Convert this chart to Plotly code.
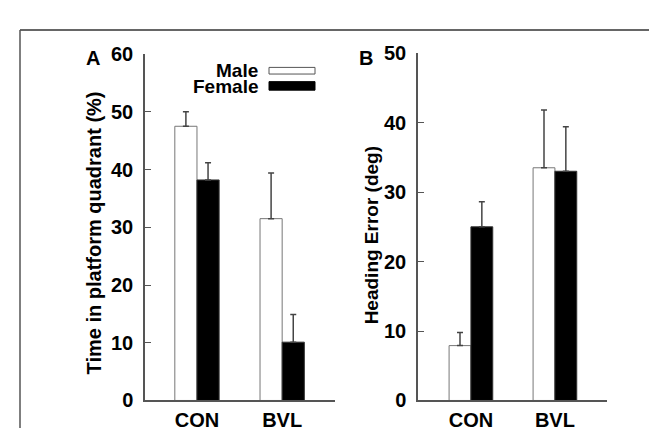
import plotly.graph_objects as go

W, H = 657, 431

categories = ["CON", "BVL"]
series_names = ["Male", "Female"]

# Panel A: Time in platform quadrant (%)
a_male = [47.5, 31.5]
a_male_err = [2.5, 7.9]
a_female = [38.2, 10.1]
a_female_err = [3.0, 4.8]

# Panel B: Heading Error (deg)
b_male = [7.9, 33.5]
b_male_err = [1.9, 8.3]
b_female = [25.0, 33.0]
b_female_err = [3.6, 6.4]

a_ticks = [0, 10, 20, 30, 40, 50, 60]
b_ticks = [0, 10, 20, 30, 40, 50]

FONT = "Liberation Sans, Arial, sans-serif"
AX = "#555555"
ERR = "#444444"

def px(x):
    return x / W

def py(y):
    return 1 - y / H

fig = go.Figure()

cat_pos = list(range(len(categories)))

def add_pair(m, me, f, fe, xa, ya):
    fig.add_trace(go.Bar(
        x=cat_pos, y=m, name="Male", xaxis=xa, yaxis=ya,
        marker=dict(color="white", line=dict(color="#777777", width=1)),
        error_y=dict(type="data", array=me, arrayminus=[0] * len(me), symmetric=False,
                     color=ERR, thickness=1.5, width=3),
        showlegend=False))
    fig.add_trace(go.Bar(
        x=cat_pos, y=f, name="Female", xaxis=xa, yaxis=ya,
        marker=dict(color="black", line=dict(color="#333333", width=1)),
        error_y=dict(type="data", array=fe, arrayminus=[0] * len(fe), symmetric=False,
                     color=ERR, thickness=1.5, width=3),
        showlegend=False))

add_pair(a_male, a_male_err, a_female, a_female_err, "x", "y")
add_pair(b_male, b_male_err, b_female, b_female_err, "x2", "y2")

tickfont = dict(family=FONT, size=20, color="black", weight="bold")

xcommon = dict(
    tickmode="array", tickvals=cat_pos, ticktext=categories,
    showline=True, linecolor=AX, linewidth=1.5, ticks="", showgrid=False,
    zeroline=False, tickfont=tickfont, ticklabelstandoff=1,
)
ycommon = dict(
    showline=True, linecolor=AX, linewidth=1.5, ticks="inside", ticklen=6,
    tickcolor=AX, tickwidth=1.2, showgrid=False, zeroline=False,
    tickfont=tickfont, ticklabelstandoff=6,
)

fig.update_layout(
    width=W, height=H,
    margin=dict(l=0, r=0, t=0, b=0),
    paper_bgcolor="white", plot_bgcolor="white",
    barmode="group", bargap=0.48, bargroupgap=0,
    xaxis=dict(domain=[px(137), px(327)], range=[-0.61, 1.62], anchor="y", **xcommon),
    yaxis=dict(domain=[py(402), py(37)], range=[0, 60], tickvals=a_ticks, anchor="x", **ycommon),
    xaxis2=dict(domain=[px(410), px(599)], range=[-0.63, 1.62], anchor="y2", **xcommon),
    yaxis2=dict(domain=[py(402), py(36)], range=[0, 50], tickvals=b_ticks, anchor="x2", **ycommon),
)

ann = [
    dict(text="Time in platform quadrant (%)", x=px(86), y=py(226), textangle=-90, size=20),
    dict(text="Heading Error (deg)", x=px(363), y=py(228), textangle=-90, size=19),
    dict(text="A", x=px(85), y=py(41), size=20),
    dict(text="B", x=px(358), y=py(41), size=20),
]
for a in ann:
    size = a.pop("size")
    fig.add_annotation(xref="paper", yref="paper", xanchor="center", yanchor="middle",
                       showarrow=False,
                       font=dict(family=FONT, size=size, color="black", weight="bold"), **a)

# legend (text to the left of the swatch)
legfont = dict(family=FONT, size=19, color="black", weight="bold")
fig.add_annotation(text=series_names[0], xref="paper", yref="paper", x=px(252), y=py(54),
                   xanchor="right", yanchor="middle", showarrow=False, font=legfont)
fig.add_annotation(text=series_names[1], xref="paper", yref="paper", x=px(252), y=py(71),
                   xanchor="right", yanchor="middle", showarrow=False, font=legfont)
fig.add_shape(type="rect", xref="paper", yref="paper", x0=px(261), x1=px(307), y0=py(58), y1=py(51),
              line=dict(color="#555555", width=1), fillcolor="white")
fig.add_shape(type="rect", xref="paper", yref="paper", x0=px(261), x1=px(307), y0=py(75), y1=py(66),
              line=dict(color="black", width=1), fillcolor="black")

# outer frame (top and left edges)
fig.add_shape(type="line", xref="paper", yref="paper", x0=px(12), x1=1, y0=py(11.5), y1=py(11.5),
              line=dict(color="#333333", width=1.5))
fig.add_shape(type="line", xref="paper", yref="paper", x0=px(12), x1=px(12), y0=py(11.5), y1=0,
              line=dict(color="#555555", width=1.5))

fig.write_html("out.html")
